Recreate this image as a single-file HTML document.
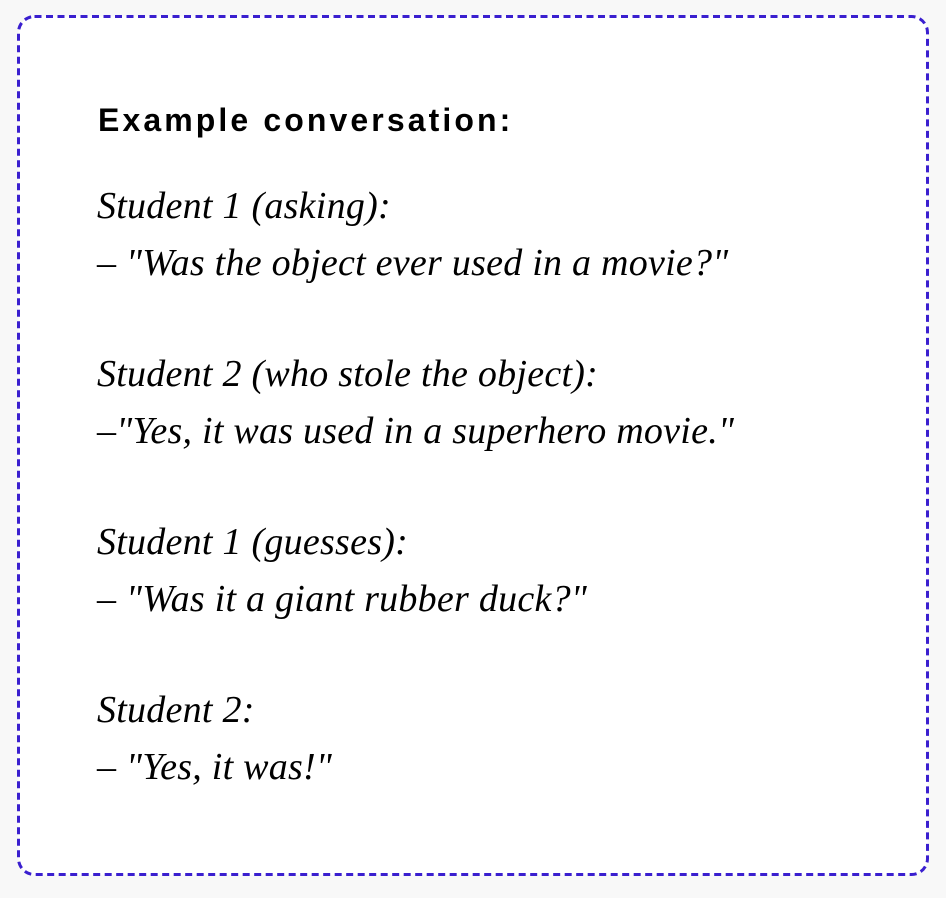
<!DOCTYPE html>
<html><head><style>
html,body{margin:0;padding:0;background:#f8f8f8;}
body{width:946px;height:898px;position:relative;overflow:hidden;}
svg{position:absolute;left:0;top:0;}
.t{position:absolute;left:98px;top:102px;font-family:"Liberation Sans",sans-serif;font-weight:bold;font-size:32px;color:#000;letter-spacing:3.1px;}
.p{position:absolute;left:97px;font-family:"Liberation Serif",serif;font-style:italic;font-size:38px;color:#000;letter-spacing:0.25px;line-height:57px;white-space:nowrap;}
</style></head><body>
<svg width="946" height="898"><rect x="18.5" y="16.5" width="909" height="858" rx="16" ry="16" fill="#fff" stroke="#3a1fcf" stroke-width="3" stroke-dasharray="7 4.5"/></svg>
<div class="t">Example conversation:</div>
<div class="p" style="top:178px">Student 1 (asking):<br>– "Was the object ever used in a movie?"</div>
<div class="p" style="top:346px">Student 2 (who stole the object):<br>–"Yes, it was used in a superhero movie."</div>
<div class="p" style="top:514px">Student 1 (guesses):<br>– "Was it a giant rubber duck?"</div>
<div class="p" style="top:682px">Student 2:<br>– "Yes, it was!"</div>
</body></html>
